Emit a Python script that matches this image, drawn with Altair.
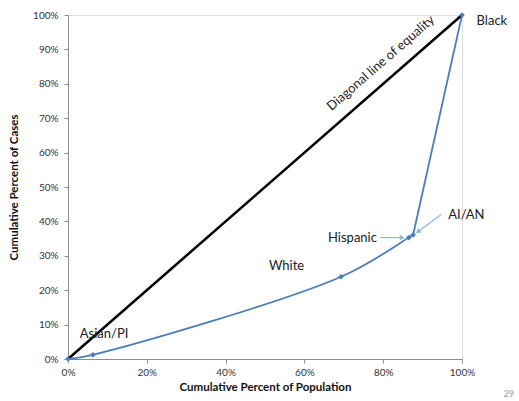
import altair as alt
import pandas as pd

# Lorenz-style curve data (cumulative fractions)
groups = ["Origin", "Asian/PI", "White", "Hispanic", "AI/AN", "Black"]
cum_pop = [0.0, 0.063, 0.693, 0.865, 0.876, 1.0]
cum_cases = [0.0, 0.012, 0.239, 0.353, 0.361, 1.0]
# smooth segment in the reference covers Origin..AI/AN; last segment is straight
segment = ["smooth", "smooth", "smooth", "smooth", "smooth", "straight"]

diag_x = [0.0, 1.0]
diag_y = [0.0, 1.0]

tick_vals = [0, 0.1, 0.2, 0.3, 0.4, 0.5, 0.6, 0.7, 0.8, 0.9, 1.0]
x_tick_vals = [0, 0.2, 0.4, 0.6, 0.8, 1.0]

# text labels
label_text = ["Asian/PI", "White", "Hispanic", "AI/AN", "Black"]
label_x = [0.03, 0.51, 0.66, 0.965, 1.037]
label_y = [0.072, 0.27, 0.352, 0.419, 0.983]

FONT = "Lato"
BLUE = "#4a7ebb"
ARROW = "#8db3e2"

df = pd.DataFrame({"group": groups, "x": cum_pop, "y": cum_cases, "seg": segment})
smooth_df = df[df["seg"] == "smooth"]
straight_df = df.iloc[4:6]
diag = pd.DataFrame({"x": diag_x, "y": diag_y})
labels = pd.DataFrame({"t": label_text, "x": label_x, "y": label_y})

# arrows: start -> end (end has arrowhead)
arrows = pd.DataFrame({
    "x": [0.792, 0.947],
    "y": [0.353, 0.420],
    "x2": [0.848, 0.888],
    "y2": [0.353, 0.370],
    "angle": [0, 143],
})

xs = alt.Scale(domain=[0, 1], nice=False, zero=True)
ys = alt.Scale(domain=[0, 1], nice=False, zero=True)

xaxis = alt.Axis(format="%", values=x_tick_vals, grid=False,
                 title="Cumulative Percent of Population",
                 labelOverlap=False, labelFlush=False, labelBound=False,
                 domainColor="#8c8c8c", tickColor="#8c8c8c", tickSize=4,
                 labelFont=FONT, labelFontSize=10, labelColor="#333333",
                 labelPadding=4, titleFont=FONT, titleFontSize=11.5,
                 titleFontWeight="bold", titleColor="#111111", titlePadding=4)
yaxis = alt.Axis(format="%", values=tick_vals, grid=False,
                 title="Cumulative Percent of Cases",
                 labelOverlap=False, labelFlush=False, labelBound=False,
                 domainColor="#8c8c8c", tickColor="#8c8c8c", tickSize=4,
                 labelFont=FONT, labelFontSize=10, labelColor="#333333",
                 labelPadding=6, titleFont=FONT, titleFontSize=11.5,
                 titleFontWeight="bold", titleColor="#111111", titlePadding=13)


def X(field):
    return alt.X(field, scale=xs, axis=xaxis)


def Y(field):
    return alt.Y(field, scale=ys, axis=yaxis)


diag_line = alt.Chart(diag).mark_line(color="black", strokeWidth=2.5).encode(
    x=X("x:Q"), y=Y("y:Q"))

curve1 = alt.Chart(smooth_df).mark_line(color=BLUE, strokeWidth=1.8,
                                        interpolate="catmull-rom").encode(
    x=X("x:Q"), y=Y("y:Q"))
curve2 = alt.Chart(straight_df).mark_line(color=BLUE, strokeWidth=1.8).encode(
    x=X("x:Q"), y=Y("y:Q"))

points = alt.Chart(df).mark_point(shape="diamond", filled=True, color=BLUE,
                                  size=32, opacity=1).encode(
    x=X("x:Q"), y=Y("y:Q"))

text = alt.Chart(labels).mark_text(font=FONT, fontSize=13, color="#222222",
                                   align="left", baseline="middle").encode(
    x=X("x:Q"), y=Y("y:Q"), text="t:N")

diag_label = alt.Chart(pd.DataFrame({"t": ["Diagonal line of equality"],
                                     "x": [0.794], "y": [0.86]})).mark_text(
    font=FONT, fontSize=13, color="#222222", angle=319,
    align="center", baseline="middle").encode(
    x=X("x:Q"), y=Y("y:Q"), text="t:N")

arrow_lines = alt.Chart(arrows).mark_rule(color=ARROW, strokeWidth=1.2).encode(
    x=X("x:Q"), y=Y("y:Q"), x2="x2:Q", y2="y2:Q")

arrow_heads = alt.Chart(arrows).mark_point(shape="triangle-right", filled=True,
                                           color=ARROW, size=30, opacity=1).encode(
    x=X("x2:Q"), y=Y("y2:Q"), angle=alt.Angle("angle:Q", scale=None))

page = alt.Chart(pd.DataFrame({"t": ["29"]})).mark_text(
    font=FONT, fontSize=9, color="#999999", align="right", baseline="middle").encode(
    x=alt.value(446), y=alt.value(379), text="t:N")

chart = alt.layer(diag_line, curve1, curve2, points, arrow_lines, arrow_heads,
                  text, diag_label, page).properties(
    width=394, height=344,
    autosize=alt.AutoSizeParams(type="none"),
    padding={"left": 68, "top": 15, "right": 57, "bottom": 42},
).configure_view(stroke=None).configure(background="white")

chart.save("out.html", embed_options={"renderer": "svg", "actions": False})
